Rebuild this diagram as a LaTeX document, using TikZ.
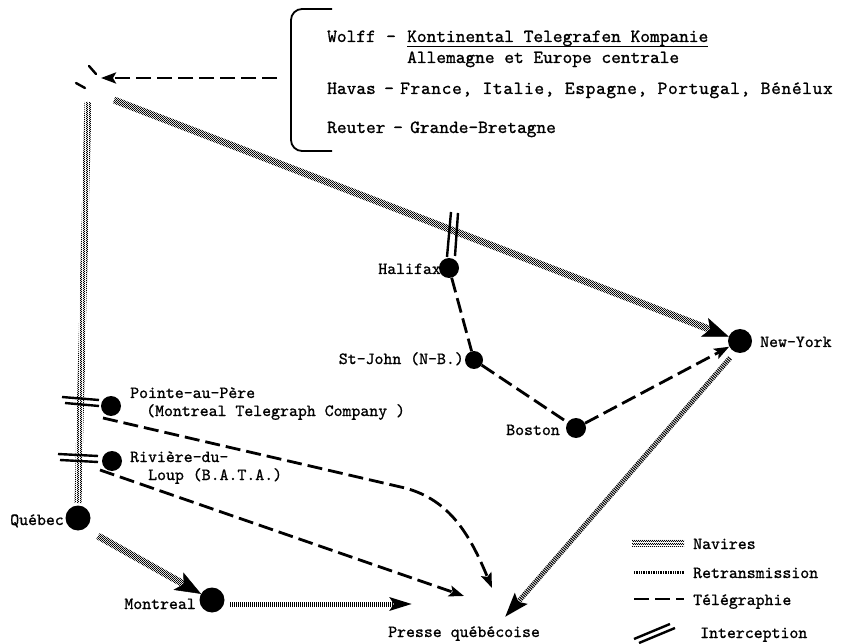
\documentclass[tikz,border=0pt]{standalone}
\usepackage{fontspec}
\newfontfamily\tw{lmmono10-regular.otf}[FakeBold=1]
\usetikzlibrary{arrows.meta,patterns,calc}
\pgfdeclarepatternformonly{navdots}{\pgfpointorigin}{\pgfqpoint{2.4pt}{2.4pt}}{\pgfqpoint{2.4pt}{2.4pt}}{%
  \pgfpathcircle{\pgfqpoint{0.6pt}{0.6pt}}{0.72pt}%
  \pgfpathcircle{\pgfqpoint{1.8pt}{1.8pt}}{0.72pt}%
  \pgfusepath{fill}}
\newcommand\navband[2]{%
  \fill[pattern=navdots] ($(#1)!3.5pt!90:(#2)$) -- ($(#1)!3.5pt!-90:(#2)$) -- ($(#2)!3.5pt!90:(#1)$) -- ($(#2)!3.5pt!-90:(#1)$) -- cycle;}
\begin{document}
\begin{tikzpicture}[x=1pt,y=-1pt,
  dot/.style={circle,fill=black,inner sep=0pt,minimum size=#1},
  lbl/.style={font=\tw\fontsize{17}{19}\selectfont,inner sep=0pt},
  toptxt/.style={font=\tw\fontsize{18.5}{20}\selectfont,inner sep=0pt,anchor=base west},
  retrans/.style={line width=5pt,dash pattern=on 1pt off 1pt},
  tele/.style={line width=2.8pt,dash pattern=on 15pt off 6pt},
  inter/.style={line width=2.4pt},
  navtip/.style={-{Stealth[length=26pt,width=20pt,inset=6pt]},line width=0.5pt},
  teletip/.style={-{Stealth[length=15pt,width=11pt,inset=3pt]}},
]
\useasboundingbox (0,0) rectangle (841,644);

% ---------- top bracket and agencies ----------
\draw[line width=1.8pt,rounded corners=11pt] (332,9) -- (291,9) -- (291,151) -- (332,151);
\node[toptxt] (wolff) at (327,42) {Wolff};
\node[toptxt] (wd) at (386,42) {-};
\node[toptxt] (kont) at (407,42) {Kontinental Telegrafen Kompanie};
\draw[line width=0.9pt] ([yshift=-4.5pt]kont.base west) -- ([yshift=-4.5pt]kont.base east);
\node[toptxt] (alle) at (407,63) {Allemagne et Europe centrale};
\node[toptxt] (havas) at (327,94) {Havas};
\node[toptxt] (hd) at (384,94) {-};
\node[toptxt,font=\tw\fontsize{18.5}{20}\selectfont\addfontfeature{LetterSpace=3.6}] (fr) at (400,94) {France, Italie, Espagne, Portugal, Bénélux};
\node[toptxt] (reuter) at (327,133) {Reuter};
\node[toptxt] (rd) at (393,133) {-};
\node[toptxt] (gb) at (410,133) {Grande-Bretagne};

% ---------- Europe ----------
\coordinate (europe) at (101,78);
\coordinate (agences) at (277,78);
\draw[line width=2.4pt,line cap=round] (89,66) -- (96,74);
\draw[line width=2.4pt,line cap=round] (76,83) -- (85,88);
\draw[tele,teletip] (agences) -- (europe);

% ---------- nodes ----------
\node[dot=24pt] (ny) at (740,341) {};
\node[dot=20pt] (hal) at (449,268) {};
\node[dot=18pt] (sj) at (474,360) {};
\node[dot=20pt] (bos) at (576,428) {};
\node[dot=20pt] (pap) at (111,406) {};
\node[dot=20pt] (rdl) at (112,461) {};
\node[dot=25pt] (que) at (78,518) {};
\node[dot=25pt] (mtl) at (212,600) {};

\node[lbl,anchor=base west] (nyl) at (760,347) {New-York};
\node[lbl,anchor=base east] (hall) at (441,274) {Halifax};
\node[lbl,anchor=base east] (sjl) at (464,364) {St-John (N-B.)};
\node[lbl,anchor=base east] (bosl) at (560,435) {Boston};
\node[lbl,anchor=base west] (papl) at (130,398) {Pointe-au-Père};
\node[lbl,anchor=base west] (papl2) at (146,416) {(Montreal Telegraph Company )};
\node[lbl,anchor=base west] (rdll) at (130,462) {Rivière-du-};
\node[lbl,anchor=base west] (rdll2) at (148,480) {Loup (B.A.T.A.)};
\node[lbl,anchor=base east] (quel) at (64,525) {Québec};
\node[lbl,anchor=base east] (mtll) at (196,609) {Montreal};
\node[lbl,anchor=base west] (presse) at (388,637) {Presse québécoise};

% ---------- Navires ----------
\coordinate (nv1) at (88,102);
\coordinate (nv2) at (78,503);
\navband{nv1}{nv2}
\coordinate (nd1) at (114,100);
\coordinate (nyb) at ($(ny)!12pt!(nd1)$);
\coordinate (nyc) at ($(ny)!30pt!(nd1)$);
\navband{nd1}{nyc}
\draw[navtip] ($(nyb)!3pt!(nd1)$) -- (nyb);
\coordinate (qm) at (98,536);
\coordinate (mtlb) at ($(mtl)!12.5pt!(qm)$);
\coordinate (mtlc) at ($(mtl)!30pt!(qm)$);
\navband{qm}{mtlc}
\draw[navtip] ($(mtlb)!3pt!(qm)$) -- (mtlb);

% ---------- Interceptions ----------
\draw[inter] (451,212) -- (447,257);
\draw[inter] (458,213) -- (455,256);
\draw[inter] (62,397) -- (99,400);
\draw[inter] (65,403) -- (99,406);
\draw[inter] (58,454) -- (98,456);
\draw[inter] (60,460) -- (98,462);

% ---------- Telegraphie ----------
\draw[tele] (hal) -- (sj);
\draw[tele] (sj) -- (bos);
\draw[tele,teletip] (bos) -- (ny);
\coordinate (pap0) at (103,418);
\coordinate (papk) at (405,488);
\coordinate (presseA) at (492,588);
\draw[tele,teletip] (pap0) -- (papk) .. controls (450,500) and (470,535) .. (presseA);
\coordinate (rdl0) at (100,470);
\coordinate (presseB) at (464,596);
\draw[tele,teletip] (rdl0) -- (presseB);

% ---------- Retransmission ----------
\coordinate (mtlr) at (230,604);
\coordinate (presseC) at (412,604);
\draw[retrans,-{Stealth[length=22pt,width=13pt,inset=4pt]}] (mtlr) -- (presseC);
\coordinate (nyr) at (730,358);
\coordinate (presseD) at (505,617);
\draw[retrans,-{Stealth[length=24pt,width=16pt,inset=4pt]}] (nyr) -- (presseD);

% ---------- Legend ----------
\coordinate (lg1a) at (632,543); \coordinate (lg1b) at (684,543);
\navband{lg1a}{lg1b}
\node[lbl,anchor=base west] (lnav) at (693,549) {Navires};
\coordinate (lg2a) at (634,572); \coordinate (lg2b) at (684,572);
\draw[line width=3pt,dash pattern=on 0.8pt off 0.9pt] (lg2a) -- (lg2b);
\node[lbl,anchor=base west] (lret) at (693,578) {Retransmission};
\coordinate (lg3a) at (634,599); \coordinate (lg3b) at (684,599);
\draw[tele] (lg3a) -- (lg3b);
\node[lbl,anchor=base west] (ltel) at (693,605) {Télégraphie};
\draw[inter] (634,639) -- (670,624);
\draw[inter] (639,643) -- (675,628);
\node[lbl,anchor=base west] (lint) at (700,638) {Interception};
\end{tikzpicture}
\end{document}
